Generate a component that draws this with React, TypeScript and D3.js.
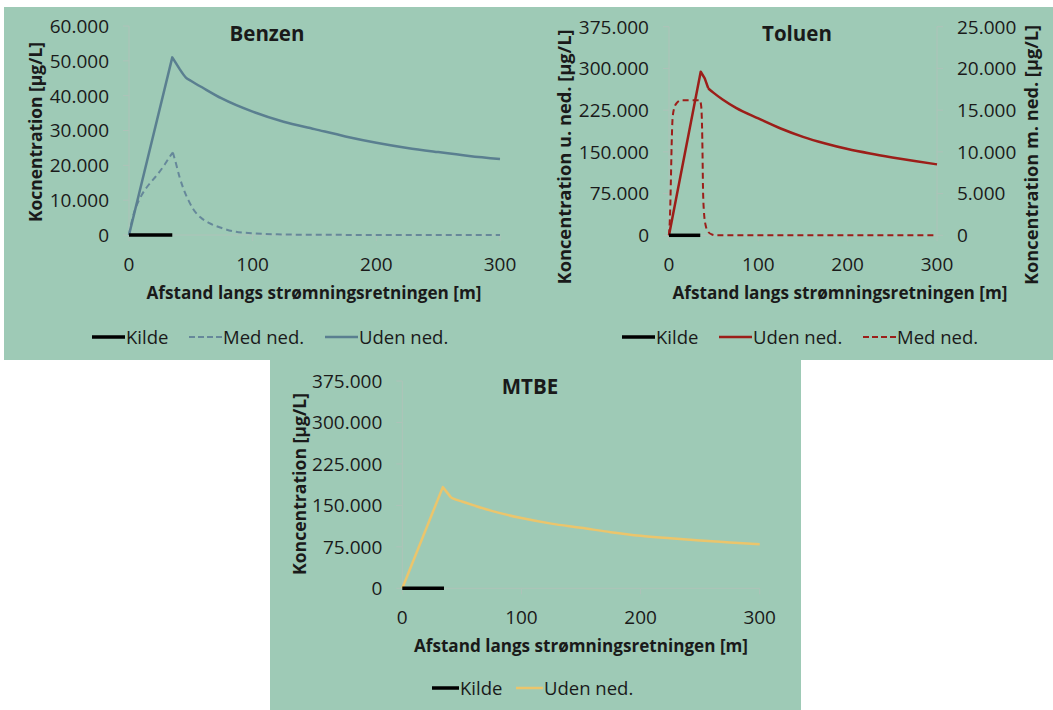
import React from "react";
import * as d3 from "d3";

// ---------- DATA ----------
const X_TICKS = [0, 100, 200, 300];
const BENZEN_Y_TICKS = [0, 10000, 20000, 30000, 40000, 50000, 60000];
const TOLUEN_LEFT_TICKS = [0, 75000, 150000, 225000, 300000, 375000];
const TOLUEN_RIGHT_TICKS = [0, 5000, 10000, 15000, 20000, 25000];
const MTBE_Y_TICKS = [0, 75000, 150000, 225000, 300000, 375000];

const KILDE_X = [0, 35];
const KILDE_Y = [0, 0];

const BENZEN_UDEN_X = [0, 35, 41, 46, 50, 60, 75, 100, 125, 150, 175, 200, 225, 250, 275, 300];
const BENZEN_UDEN_Y = [0, 51000, 47600, 45200, 44300, 42200, 39200, 35400, 32500, 30400, 28300, 26500, 25000, 23800, 22700, 21800];

const BENZEN_MED_X = [0, 3, 6, 10, 15, 20, 25, 29, 33, 35.5, 38, 41, 44, 48, 52, 58, 65, 75, 85, 100, 120, 150, 300];
const BENZEN_MED_Y = [0, 5000, 8300, 11300, 14000, 16100, 18300, 20300, 22500, 23700, 20500, 16500, 13300, 10000, 7400, 5000, 3400, 2000, 1000, 500, 200, 50, 0];

const TOLUEN_UDEN_X = [0, 35.5, 40, 44, 50, 60, 75, 100, 125, 150, 175, 200, 225, 250, 275, 300];
const TOLUEN_UDEN_Y = [0, 294000, 282000, 264000, 256000, 244000, 229000, 210000, 192000, 177000, 165000, 155000, 147000, 140000, 133500, 127500];

const TOLUEN_MED_X = [0, 1, 2, 3, 4, 6, 9, 14, 34.5, 36, 37, 37.5, 38, 39, 41, 44, 48, 53, 300];
const TOLUEN_MED_Y = [0, 2000, 6000, 11000, 14000, 15300, 15900, 16200, 16200, 15500, 13000, 10000, 6000, 3000, 1200, 400, 100, 0, 0];

const MTBE_UDEN_X = [0, 34, 41, 45, 50, 60, 75, 100, 125, 150, 175, 200, 225, 250, 275, 300];
const MTBE_UDEN_Y = [0, 183000, 164000, 160500, 157000, 150000, 140000, 127000, 117000, 109500, 101500, 95000, 90500, 86500, 83000, 79500];

// ---------- HELPERS ----------
const zip = (xs: number[], ys: number[]) => xs.map((x, i) => [x, ys[i]] as [number, number]);
const locale = d3.formatLocale({ decimal: ",", thousands: ".", grouping: [3], currency: ["", " kr"] });
const fmt = locale.format(",");

const BG = "#9ecab6";
const AXIS = "#aec3b9";
const TXT = "#1a1a1a";
const FONT = "'Open Sans', sans-serif";

const BENZEN_C = "#5a7f90";
const BENZEN_MED_C = "#66889a";
const TOLUEN_C = "#9c1e19";
const MTBE_C = "#ebc56c";

type Series = {
  pts: [number, number][];
  color: string;
  width: number;
  dash?: string;
  right?: boolean;
  split?: number;
  c1?: d3.CurveFactory;
  c2?: d3.CurveFactory;
};

function LeftAxis({ x, y, ticks }: { x: number; y: d3.ScaleLinear<number, number>; ticks: number[] }) {
  const r = y.range();
  return (
    <g>
      <line x1={x} x2={x} y1={r[0]} y2={r[1]} stroke={AXIS} strokeWidth={1} />
      {ticks.map((t) => (
        <g key={t}>
          <line x1={x - 6} x2={x} y1={y(t)} y2={y(t)} stroke={AXIS} strokeWidth={1} />
          <text x={x - 20} y={y(t)} dy="0.36em" textAnchor="end" fontSize={19} fill={TXT} fontFamily={FONT}>
            {fmt(t)}
          </text>
        </g>
      ))}
    </g>
  );
}

function RightAxis({ x, y, ticks }: { x: number; y: d3.ScaleLinear<number, number>; ticks: number[] }) {
  const r = y.range();
  return (
    <g>
      <line x1={x} x2={x} y1={r[0]} y2={r[1]} stroke={AXIS} strokeWidth={1} />
      {ticks.map((t) => (
        <g key={t}>
          <line x1={x} x2={x + 6} y1={y(t)} y2={y(t)} stroke={AXIS} strokeWidth={1} />
          <text x={x + 20} y={y(t)} dy="0.36em" textAnchor="start" fontSize={19} fill={TXT} fontFamily={FONT}>
            {fmt(t)}
          </text>
        </g>
      ))}
    </g>
  );
}

function BottomAxis({ x, y0, labelY }: { x: d3.ScaleLinear<number, number>; y0: number; labelY: number }) {
  const r = x.range();
  return (
    <g>
      <line x1={r[0]} x2={r[1]} y1={y0} y2={y0} stroke={AXIS} strokeWidth={1} />
      {X_TICKS.map((t) => (
        <g key={t}>
          <line x1={x(t)} x2={x(t)} y1={y0} y2={y0 + 6} stroke={AXIS} strokeWidth={1} />
          <text x={x(t)} y={labelY} dy="0.36em" textAnchor="middle" fontSize={19} fill={TXT} fontFamily={FONT}>
            {t}
          </text>
        </g>
      ))}
    </g>
  );
}

function Legend({ items, y }: { items: { label: string; x: number; len: number; color: string; width: number; dash?: string }[]; y: number }) {
  return (
    <g>
      {items.map((it) => (
        <g key={it.label}>
          <line x1={it.x} x2={it.x + it.len} y1={y} y2={y} stroke={it.color} strokeWidth={it.width} strokeDasharray={it.dash} />
          <text x={it.x + it.len + 1} y={y} dy="0.36em" fontSize={18.5} fill={TXT} fontFamily={FONT}>
            {it.label}
          </text>
        </g>
      ))}
    </g>
  );
}

function Lines({ series, x, yl, yr }: { series: Series[]; x: d3.ScaleLinear<number, number>; yl: d3.ScaleLinear<number, number>; yr?: d3.ScaleLinear<number, number> }) {
  return (
    <g>
      {series.map((s, i) => {
        const ys = s.right && yr ? yr : yl;
        const mk = (c: d3.CurveFactory) =>
          d3
            .line<[number, number]>()
            .x((d) => x(d[0]))
            .y((d) => ys(d[1]))
            .curve(c);
        const parts: string[] = [];
        if (s.split !== undefined) {
          parts.push(mk(s.c1 || d3.curveLinear)(s.pts.slice(0, s.split + 1)) || "");
          parts.push(mk(s.c2 || d3.curveLinear)(s.pts.slice(s.split)) || "");
        } else {
          parts.push(mk(s.c1 || d3.curveLinear)(s.pts) || "");
        }
        return (
          <path
            key={i}
            d={parts.join("")}
            fill="none"
            stroke={s.color}
            strokeWidth={s.width}
            strokeDasharray={s.dash}
            strokeLinejoin="round"
          />
        );
      })}
    </g>
  );
}

function RotTitle({ x, y, text, len }: { x: number; y: number; text: string; len: number }) {
  return (
    <text
      transform={`translate(${x},${y}) rotate(-90)`}
      textAnchor="middle"
      dy="0.35em"
      fontSize={18}
      fontWeight="bold"
      fill={TXT}
      fontFamily={FONT}
      textLength={len}
      lengthAdjust="spacingAndGlyphs"
    >
      {text}
    </text>
  );
}

function XTitle({ x, y, len }: { x: number; y: number; len: number }) {
  return (
    <text
      x={x}
      y={y}
      dy="0.35em"
      textAnchor="middle"
      fontSize={18}
      fontWeight="bold"
      fill={TXT}
      fontFamily={FONT}
      textLength={len}
      lengthAdjust="spacingAndGlyphs"
    >
      Afstand langs strømningsretningen [m]
    </text>
  );
}

function ChartTitle({ x, y, text }: { x: number; y: number; text: string }) {
  return (
    <text x={x} y={y} dy="0.35em" textAnchor="middle" fontSize={20.5} fontWeight="bold" fill={TXT} fontFamily={FONT}>
      {text}
    </text>
  );
}

export default function App() {
  // Benzen
  const bx = d3.scaleLinear().domain([0, 300]).range([129, 500]);
  const by = d3.scaleLinear().domain([0, 60000]).range([235, 26]);
  // Toluen
  const tx = d3.scaleLinear().domain([0, 300]).range([669, 937]);
  const tyl = d3.scaleLinear().domain([0, 375000]).range([235.3, 26.7]);
  const tyr = d3.scaleLinear().domain([0, 25000]).range([235.3, 26.7]);
  // MTBE
  const mx = d3.scaleLinear().domain([0, 300]).range([402.3, 759.7]);
  const my = d3.scaleLinear().domain([0, 375000]).range([588.3, 381]);

  const kilde = zip(KILDE_X, KILDE_Y);
  const mono = d3.curveMonotoneX;
  const lin = d3.curveLinear;

  return (
    <div style={{ position: "absolute", left: 0, top: 0 }}>
      <svg width={1053} height={710} style={{ display: "block", background: "#fff" }}>
        <rect x={4} y={7} width={1049} height={353} fill={BG} />
        <rect x={270} y={360} width={531} height={350} fill={BG} />

        {/* Benzen */}
        <LeftAxis x={129} y={by} ticks={BENZEN_Y_TICKS} />
        <BottomAxis x={bx} y0={235} labelY={264} />
        <Lines
          x={bx}
          yl={by}
          series={[
            { pts: zip(BENZEN_MED_X, BENZEN_MED_Y), color: BENZEN_MED_C, width: 2, dash: "6,4", split: 9, c1: mono, c2: mono },
            { pts: zip(BENZEN_UDEN_X, BENZEN_UDEN_Y), color: BENZEN_C, width: 2.5, split: 2, c1: lin, c2: mono },
            { pts: kilde, color: "#000", width: 3.5 },
          ]}
        />
        <ChartTitle x={267} y={34} text="Benzen" />
        <RotTitle x={36} y={132} text="Kocnentration [µg/L]" len={180} />
        <XTitle x={314} y={293} len={335} />
        <Legend
          y={337}
          items={[
            { label: "Kilde", x: 92, len: 33, color: "#000", width: 3.5 },
            { label: "Med ned.", x: 189, len: 33, color: BENZEN_MED_C, width: 2, dash: "6,3" },
            { label: "Uden ned.", x: 325, len: 33, color: BENZEN_C, width: 2.5 },
          ]}
        />

        {/* Toluen */}
        <LeftAxis x={669} y={tyl} ticks={TOLUEN_LEFT_TICKS} />
        <RightAxis x={937} y={tyr} ticks={TOLUEN_RIGHT_TICKS} />
        <BottomAxis x={tx} y0={235.3} labelY={264} />
        <Lines
          x={tx}
          yl={tyl}
          yr={tyr}
          series={[
            { pts: zip(TOLUEN_MED_X, TOLUEN_MED_Y), color: TOLUEN_C, width: 2, dash: "6,4", right: true, c1: mono },
            { pts: zip(TOLUEN_UDEN_X, TOLUEN_UDEN_Y), color: TOLUEN_C, width: 2.5, split: 3, c1: lin, c2: mono },
            { pts: kilde, color: "#000", width: 3.5 },
          ]}
        />
        <ChartTitle x={797} y={34} text="Toluen" />
        <RotTitle x={565} y={157} text="Koncentration u. ned.  [µg/L]" len={255} />
        <RotTitle x={1032} y={155} text="Koncentration m. ned. [µg/L]" len={260} />
        <XTitle x={840} y={293} len={335} />
        <Legend
          y={337}
          items={[
            { label: "Kilde", x: 622, len: 33, color: "#000", width: 3.5 },
            { label: "Uden ned.", x: 719, len: 33, color: TOLUEN_C, width: 2.5 },
            { label: "Med ned.", x: 863, len: 33, color: TOLUEN_C, width: 2, dash: "6,3" },
          ]}
        />

        {/* MTBE */}
        <LeftAxis x={402.3} y={my} ticks={MTBE_Y_TICKS} />
        <BottomAxis x={mx} y0={588.3} labelY={617} />
        <Lines
          x={mx}
          yl={my}
          series={[
            { pts: zip(MTBE_UDEN_X, MTBE_UDEN_Y), color: MTBE_C, width: 2.5, split: 2, c1: lin, c2: mono },
            { pts: kilde, color: "#000", width: 3.5 },
          ]}
        />
        <ChartTitle x={530} y={387} text="MTBE" />
        <RotTitle x={300} y={484} text="Koncentration [µg/L]" len={182} />
        <XTitle x={581} y={646} len={334} />
        <Legend
          y={688}
          items={[
            { label: "Kilde", x: 432, len: 27, color: "#000", width: 3.5 },
            { label: "Uden ned.", x: 516, len: 27, color: MTBE_C, width: 2.5 },
          ]}
        />
      </svg>
    </div>
  );
}
